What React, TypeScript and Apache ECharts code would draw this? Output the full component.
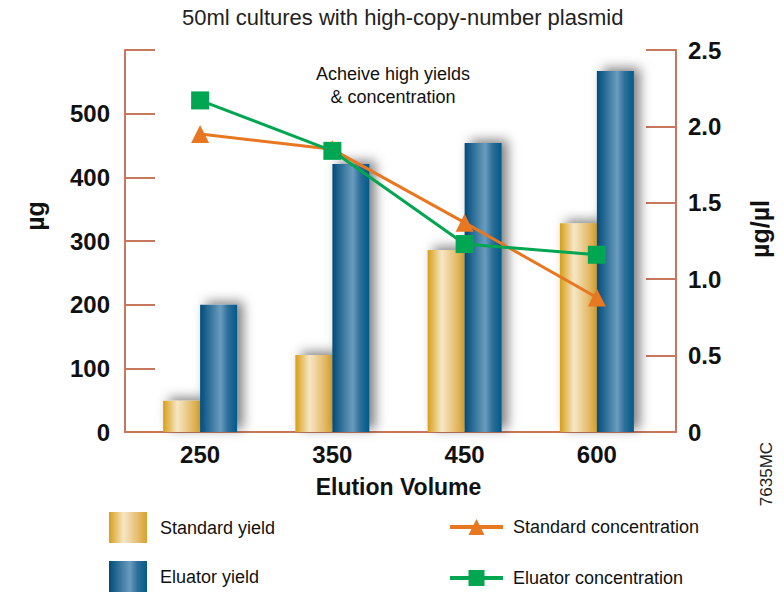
import React, { useEffect, useRef } from "react";
import * as echarts from "echarts";

const categories = ["250", "350", "450", "600"];
const standardYield = [49, 121, 286, 328];
const eluatorYield = [200, 421, 454, 567];
const standardConc = [1.95, 1.85, 1.37, 0.88];
const eluatorConc = [2.17, 1.84, 1.23, 1.16];

const FONT = "'Liberation Sans', Arial, sans-serif";
const AXIS = "#C8775F";
const ORANGE = "#E87722";
const GREEN = "#00A651";

const goldGrad = new echarts.graphic.LinearGradient(0, 0, 1, 0, [
  { offset: 0, color: "#D89E16" },
  { offset: 0.38, color: "#F6E6C6" },
  { offset: 0.5, color: "#F1DAAC" },
  { offset: 1, color: "#D9A130" },
]);
const blueGrad = new echarts.graphic.LinearGradient(0, 0, 1, 0, [
  { offset: 0, color: "#004C7A" },
  { offset: 0.55, color: "#6A9CBE" },
  { offset: 0.75, color: "#2E6F9A" },
  { offset: 1, color: "#005A88" },
]);

export default function App() {
  const ref = useRef<HTMLDivElement>(null);
  useEffect(() => {
    if (!ref.current) return;
    document.body.style.margin = "0";
    const chart = echarts.init(ref.current, undefined, { renderer: "svg" });
    const barShadow = {
      shadowBlur: 12,
      shadowColor: "rgba(0,0,0,0.5)",
      shadowOffsetX: 6,
      shadowOffsetY: -3,
    };
    const legendText = { fontFamily: FONT, fontSize: 18, color: "#111" };
    const barLegend = (name: string, top: number) => ({
      orient: "vertical",
      left: 109,
      top,
      padding: 0,
      itemWidth: 38,
      itemHeight: 31,
      icon: "rect",
      data: [name],
      textStyle: { ...legendText, padding: [0, 0, 0, 8] },
    });
    const lineLegend = (name: string, top: number) => ({
      orient: "vertical",
      left: 448,
      top,
      padding: 0,
      itemWidth: 53,
      itemHeight: 20,
      lineStyle: { width: 4 },
      data: [name],
      textStyle: { ...legendText, padding: [0, 0, 0, 5] },
    });
    chart.setOption({
      animation: false,
      textStyle: { fontFamily: FONT },
      title: {
        text: "50ml cultures with high-copy-number plasmid",
        left: 177,
        top: 1,
        textStyle: { fontFamily: FONT, fontSize: 22, fontWeight: "normal", color: "#222" },
      },
      grid: [
        { left: 125, right: 108, top: 50, bottom: 160 },
        { left: 134, right: 121, top: 50, bottom: 160 },
      ],
      xAxis: [
        {
          type: "value",
          gridIndex: 0,
          min: 0,
          max: 1,
          axisLine: { show: true, lineStyle: { color: AXIS, width: 2 } },
          axisTick: { show: false },
          axisLabel: { show: false },
          splitLine: { show: false },
        },
        {
          type: "category",
          gridIndex: 1,
          data: categories,
          axisLine: { show: false },
          axisTick: { show: false },
          axisLabel: {
            fontFamily: FONT,
            fontSize: 24,
            fontWeight: "bold",
            color: "#111",
            margin: 10,
          },
          name: "Elution Volume",
          nameLocation: "middle",
          nameGap: 43,
          nameTextStyle: { fontFamily: FONT, fontSize: 23, fontWeight: "bold", color: "#111" },
        },
      ],
      yAxis: [
        { type: "value", gridIndex: 0, show: false, min: 0, max: 1 },
        {
          type: "value",
          gridIndex: 1,
          position: "left",
          offset: 9,
          min: 0,
          max: 600,
          interval: 100,
          axisLine: { show: true, lineStyle: { color: AXIS, width: 2 } },
          axisTick: { show: true, inside: true, length: 30, lineStyle: { color: AXIS, width: 2 } },
          splitLine: { show: false },
          axisLabel: {
            fontFamily: FONT,
            fontSize: 24,
            fontWeight: "bold",
            color: "#111",
            margin: 15,
            formatter: (v: number) => (v === 600 ? "" : String(v)),
          },
        },
        {
          type: "value",
          gridIndex: 1,
          position: "right",
          offset: 13,
          min: 0,
          max: 2.5,
          interval: 0.5,
          axisLine: { show: true, lineStyle: { color: AXIS, width: 2 } },
          axisTick: { show: true, inside: true, length: 30, lineStyle: { color: AXIS, width: 2 } },
          splitLine: { show: false },
          axisLabel: {
            fontFamily: FONT,
            fontSize: 24,
            fontWeight: "bold",
            color: "#111",
            margin: 12,
            formatter: (v: number) => (v === 0 ? "0" : v.toFixed(1)),
          },
        },
      ],
      legend: [
        barLegend("Standard yield", 512),
        barLegend("Eluator yield", 561),
        lineLegend("Standard concentration", 518),
        lineLegend("Eluator concentration", 569),
      ],
      graphic: [
        {
          type: "text",
          x: 393,
          y: 62,
          style: {
            text: "Acheive high yields\n& concentration",
            align: "center",
            verticalAlign: "top",
            fontFamily: FONT,
            fontSize: 18,
            lineHeight: 23,
            fill: "#111",
          },
        },
        {
          type: "text",
          x: 35,
          y: 216,
          rotation: Math.PI / 2,
          style: {
            text: "µg",
            align: "center",
            verticalAlign: "middle",
            fontFamily: FONT,
            fontSize: 25,
            fontWeight: "bold",
            fill: "#111",
          },
        },
        {
          type: "text",
          x: 760,
          y: 229,
          rotation: Math.PI / 2,
          style: {
            text: "µg/µl",
            align: "center",
            verticalAlign: "middle",
            fontFamily: FONT,
            fontSize: 25,
            fontWeight: "bold",
            fill: "#111",
          },
        },
        {
          type: "text",
          x: 766,
          y: 474,
          rotation: Math.PI / 2,
          style: {
            text: "7635MC",
            align: "center",
            verticalAlign: "middle",
            fontFamily: FONT,
            fontSize: 17,
            fill: "#222",
          },
        },
      ],
      series: [
        {
          name: "Standard yield",
          type: "bar",
          xAxisIndex: 1,
          yAxisIndex: 1,
          data: standardYield,
          barWidth: 37,
          barGap: "0%",
          itemStyle: { color: goldGrad, ...barShadow },
        },
        {
          name: "Eluator yield",
          type: "bar",
          xAxisIndex: 1,
          yAxisIndex: 1,
          data: eluatorYield,
          barWidth: 37,
          barGap: "0%",
          itemStyle: { color: blueGrad, ...barShadow },
        },
        {
          name: "Standard concentration",
          type: "line",
          xAxisIndex: 1,
          yAxisIndex: 2,
          data: standardConc,
          symbol: "triangle",
          symbolSize: 18,
          lineStyle: { color: ORANGE, width: 3 },
          itemStyle: { color: ORANGE },
          z: 3,
        },
        {
          name: "Eluator concentration",
          type: "line",
          xAxisIndex: 1,
          yAxisIndex: 2,
          data: eluatorConc,
          symbol: "rect",
          symbolSize: 18,
          lineStyle: { color: GREEN, width: 3 },
          itemStyle: { color: GREEN },
          z: 4,
        },
      ],
    });
    return () => chart.dispose();
  }, []);
  return <div ref={ref} style={{ width: 784, height: 592 }} />;
}
